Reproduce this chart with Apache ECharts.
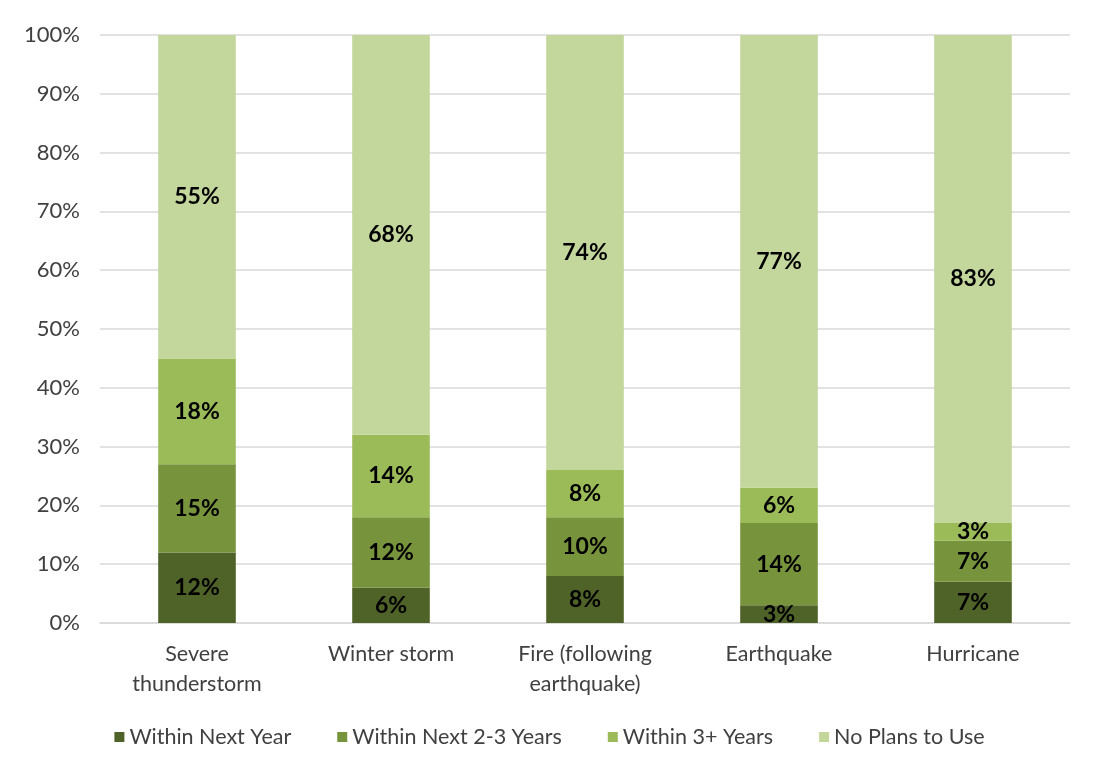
<!DOCTYPE html>
<html>
<head>
<meta charset="utf-8">
<script src="https://cdn.jsdelivr.net/npm/echarts@6/dist/echarts.min.js"></script>
<style>
  html, body { margin: 0; padding: 0; background: #fff; }
  #chart { width: 1099px; height: 769px; }
</style>
</head>
<body>
<div id="chart"></div>
<script>
// Hazard categories shown along the x axis
const categories = ['Severe\nthunderstorm', 'Winter storm', 'Fire (following\nearthquake)', 'Earthquake', 'Hurricane'];

// Share of respondents (percent) for each planning horizon
const withinNextYear = [12, 6, 8, 3, 7];
const withinNext2to3 = [15, 12, 10, 14, 7];
const within3Plus = [18, 14, 8, 6, 3];
const noPlans = [55, 68, 74, 77, 83];

const seriesNames = ['Within Next Year', 'Within Next 2-3 Years', 'Within 3+ Years', 'No Plans to Use'];
const seriesColors = ['#4F6228', '#77933C', '#9BBB59', '#C3D69B'];
const seriesData = [withinNextYear, withinNext2to3, within3Plus, noPlans];

const FONT = 'Lato, "Open Sans", sans-serif';

const chart = echarts.init(document.getElementById('chart'));

chart.setOption({
  animation: false,
  textStyle: { fontFamily: FONT },
  grid: { left: 100, right: 29, top: 35, bottom: 146, containLabel: false },
  legend: {
    bottom: 16,
    left: 'center',
    itemWidth: 10,
    itemHeight: 10,
    itemGap: 46,
    icon: 'rect',
    textStyle: { fontFamily: FONT, fontSize: 21.5, color: '#404040' },
    data: seriesNames
  },
  xAxis: {
    type: 'category',
    data: categories,
    axisTick: { show: false },
    axisLine: { lineStyle: { color: '#d9d9d9', width: 1.5 } },
    axisLabel: {
      fontFamily: FONT,
      fontSize: 21.5,
      color: '#404040',
      lineHeight: 30,
      margin: 16
    }
  },
  yAxis: {
    type: 'value',
    min: 0,
    max: 100,
    interval: 10,
    axisLine: { show: false },
    axisTick: { show: false },
    splitLine: { lineStyle: { color: '#d9d9d9', width: 1.5 } },
    axisLabel: {
      fontFamily: FONT,
      fontSize: 22,
      color: '#404040',
      margin: 20,
      formatter: '{value}%'
    }
  },
  series: seriesNames.map((name, i) => ({
    name: name,
    type: 'bar',
    stack: 'total',
    barWidth: '40%',
    data: seriesData[i],
    itemStyle: { color: seriesColors[i] },
    label: {
      show: true,
      position: 'inside',
      formatter: '{c}%',
      fontFamily: FONT,
      fontSize: 23,
      fontWeight: 'bold',
      color: '#000'
    }
  }))
});
</script>
</body>
</html>
